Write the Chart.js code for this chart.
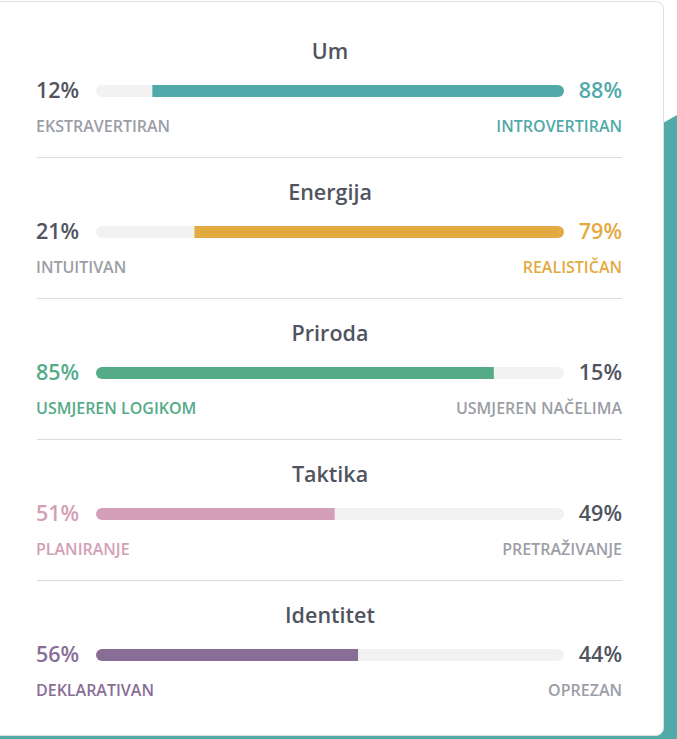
<!DOCTYPE html>
<html>
<head>
<meta charset="utf-8">
<script src="https://cdn.jsdelivr.net/npm/chart.js@4/dist/chart.umd.min.js"></script>
<style>
    html, body { margin: 0; padding: 0; }
    body {
        width: 677px; height: 739px; position: relative; overflow: hidden;
        background: #fff; font-family: "Open Sans", sans-serif; font-weight: 600;
    }
    .teal {
        position: absolute; left: 0; top: 0; width: 677px; height: 739px;
        background: #52a9aa;
        clip-path: polygon(600px 159px, 677px 115px, 677px 739px, 0 739px, 0 700px, 600px 700px);
    }
    .card {
        position: absolute; left: -12px; top: 1px; width: 674px; height: 733px;
        background: #fff; border: 1px solid #dedede; border-radius: 8px;
    }
    .abs { position: absolute; white-space: nowrap; }
    .title { font-size: 21.5px; color: #50545f; transform: translate(-50%, -50%); left: 330px; }
    .pct { font-size: 21.5px; color: #50545f; transform: translateY(-50%); }
    .sub { font-size: 16px; color: #9b9ea6; transform: translateY(-50%); }
    .sep { position: absolute; left: 37px; width: 585px; height: 1px; background: #dcdcdc; }
    .bar { position: absolute; left: 96px; width: 468px; height: 14px; }
</style>
</head>
<body>
<div class="teal"></div>
<div class="card"></div>
<div id="rows"></div>
<script>
const titles = ['Um', 'Energija', 'Priroda', 'Taktika', 'Identitet'];
const leftLabels = ['EKSTRAVERTIRAN', 'INTUITIVAN', 'USMJEREN LOGIKOM', 'PLANIRANJE', 'DEKLARATIVAN'];
const rightLabels = ['INTROVERTIRAN', 'REALISTIČAN', 'USMJEREN NAČELIMA', 'PRETRAŽIVANJE', 'OPREZAN'];
const leftValues = [12, 21, 85, 51, 56];
const rightValues = [88, 79, 15, 49, 44];
const colors = ['#52a9aa', '#e3aa41', '#55ab88', '#d39fb6', '#886e97'];

const track = '#f2f2f2';
const dark = '#50545f';
const muted = '#9b9ea6';
const rows = document.getElementById('rows');

titles.forEach((title, i) => {
    const off = i * 141;
    const leftWins = leftValues[i] > rightValues[i];
    const color = colors[i];

    rows.insertAdjacentHTML('beforeend', `
        <div class="abs title" style="top:${50 + off}px">${title}</div>
        <div class="abs pct" style="left:36px;top:${89 + off}px;color:${leftWins ? color : dark}">${leftValues[i]}%</div>
        <div class="abs pct" style="right:55px;top:${89 + off}px;color:${leftWins ? dark : color}">${rightValues[i]}%</div>
        <div class="abs sub" style="left:36px;top:${126 + off}px;color:${leftWins ? color : muted}">${leftLabels[i]}</div>
        <div class="abs sub" style="right:55px;top:${126 + off}px;color:${leftWins ? muted : color}">${rightLabels[i]}</div>
        <div class="bar" style="top:${84 + off}px"><canvas id="bar-${i}"></canvas></div>
        ${i < titles.length - 1 ? `<div class="sep" style="top:${157 + off}px"></div>` : ''}
    `);

    const ctx = document.getElementById('bar-' + i).getContext('2d');
    new Chart(ctx, {
        type: 'bar',
        data: {
            labels: [title],
            datasets: [
                {
                    data: [leftValues[i]],
                    backgroundColor: leftWins ? color : track,
                    borderSkipped: false,
                    borderRadius: { topLeft: 6, bottomLeft: 6, topRight: 0, bottomRight: 0 },
                    barThickness: 12,
                    inflateAmount: 0
                },
                {
                    data: [rightValues[i]],
                    backgroundColor: leftWins ? track : color,
                    borderSkipped: false,
                    borderRadius: { topLeft: 0, bottomLeft: 0, topRight: 6, bottomRight: 6 },
                    barThickness: 12,
                    inflateAmount: 0
                }
            ]
        },
        options: {
            indexAxis: 'y',
            responsive: true,
            maintainAspectRatio: false,
            animation: false,
            layout: { padding: 0 },
            plugins: {
                legend: { display: false },
                tooltip: { enabled: false }
            },
            scales: {
                x: { stacked: true, min: 0, max: 100, display: false },
                y: { stacked: true, display: false }
            }
        }
    });
});
</script>
</body>
</html>
